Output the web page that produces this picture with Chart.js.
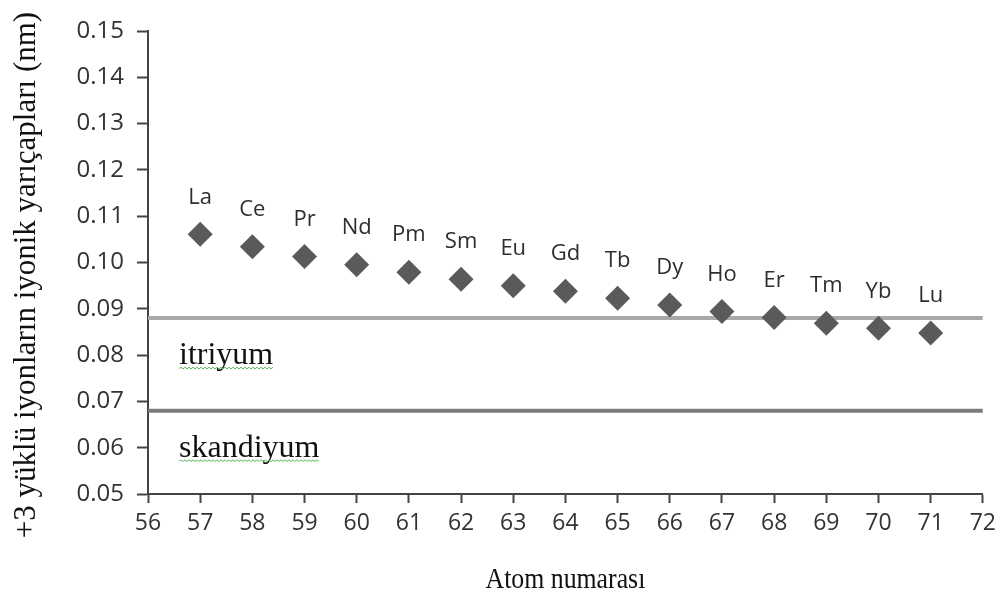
<!DOCTYPE html>
<html>
<head>
<meta charset="utf-8">
<script src="https://cdn.jsdelivr.net/npm/chart.js@4/dist/chart.umd.min.js"></script>
<style>
  html, body { margin: 0; padding: 0; background: #fff; }
  #wrap { width: 1003px; height: 596px; }
</style>
</head>
<body>
<div id="wrap"><canvas id="c" width="1003" height="596"></canvas></div>
<script>
// Lanthanide +3 ionic radii (nm) by atomic number
const atomicNumbers = [57, 58, 59, 60, 61, 62, 63, 64, 65, 66, 67, 68, 69, 70, 71];
const elements = ['La', 'Ce', 'Pr', 'Nd', 'Pm', 'Sm', 'Eu', 'Gd', 'Tb', 'Dy', 'Ho', 'Er', 'Tm', 'Yb', 'Lu'];
const ionicRadii = [0.1061, 0.1034, 0.1013, 0.0995, 0.0979, 0.0964, 0.0950, 0.0938, 0.0923, 0.0908, 0.0894, 0.0881, 0.0869, 0.0858, 0.0848];

// Reference radii for yttrium and scandium
const refNames = ['itriyum', 'skandiyum'];
const refRadii = [0.088, 0.068];

// Axis ranges and titles
const xRange = [56, 72];
const yRange = [0.05, 0.15];
const yTitle = '+3 yüklü iyonların iyonik yarıçapları (nm)';
const xTitle = 'Atom numarası';

const sansFont = '"Open Sans", Lato, sans-serif';
const serifFont = '"Liberation Serif", "DejaVu Serif", serif';

const points = atomicNumbers.map((n, i) => ({ x: n, y: ionicRadii[i] }));
const refColors = ['#a9a9a9', '#7b7b7b'];
const refSets = refRadii.map((r, i) => ({
  label: refNames[i],
  data: [{ x: xRange[0], y: r }, { x: xRange[1], y: r }],
  showLine: true,
  borderColor: refColors[i],
  borderWidth: 4,
  pointRadius: 0,
  order: i + 1
}));

// Element symbol above each marker
const symbolLabels = {
  id: 'symbolLabels',
  afterDatasetsDraw(chart) {
    const ctx = chart.ctx;
    const meta = chart.getDatasetMeta(0);
    ctx.save();
    ctx.font = '22px ' + sansFont;
    ctx.fillStyle = '#2e2e2e';
    ctx.textAlign = 'center';
    ctx.textBaseline = 'middle';
    meta.data.forEach((pt, i) => {
      ctx.fillText(elements[i], pt.x, pt.y - 37);
    });
    ctx.restore();
  }
};

// Names under the reference lines, with a wavy underline
const refLabels = {
  id: 'refLabels',
  afterDatasetsDraw(chart) {
    const ctx = chart.ctx;
    const ys = chart.scales.y;
    const x0 = chart.chartArea.left + 31;
    ctx.save();
    ctx.font = '32px ' + serifFont;
    ctx.textAlign = 'left';
    ctx.textBaseline = 'alphabetic';
    refRadii.forEach((r, i) => {
      const base = ys.getPixelForValue(r) + 46;
      ctx.fillStyle = '#111';
      ctx.fillText(refNames[i], x0, base);
      const w = ctx.measureText(refNames[i]).width;
      const uy = base + 4.5;
      ctx.beginPath();
      ctx.strokeStyle = '#5bb85b';
      ctx.lineWidth = 1;
      let up = true;
      ctx.moveTo(x0, uy);
      for (let x = x0 + 2; x <= x0 + w; x += 2) {
        ctx.lineTo(x, up ? uy - 1.3 : uy + 0.3);
        up = !up;
      }
      ctx.stroke();
    });
    ctx.restore();
  }
};

// Axis titles
const axisTitles = {
  id: 'axisTitles',
  afterDraw(chart) {
    const ctx = chart.ctx;
    const area = chart.chartArea;
    ctx.save();
    ctx.fillStyle = '#111';
    ctx.textAlign = 'center';
    ctx.textBaseline = 'middle';
    ctx.font = '31px ' + serifFont;
    ctx.translate(27, 275);
    ctx.rotate(-Math.PI / 2);
    ctx.fillText(yTitle, 0, 0);
    ctx.restore();

    ctx.save();
    ctx.fillStyle = '#111';
    ctx.textAlign = 'center';
    ctx.textBaseline = 'alphabetic';
    ctx.font = '30px ' + serifFont;
    ctx.translate((area.left + area.right) / 2, 588);
    ctx.scale(0.86, 1);
    ctx.fillText(xTitle, 0, 0);
    ctx.restore();
  }
};

Chart.defaults.font.family = sansFont;

new Chart(document.getElementById('c'), {
  type: 'scatter',
  data: {
    datasets: [
      {
        label: 'Ln3+',
        data: points,
        pointStyle: 'rectRot',
        pointRadius: 12.5,
        pointHoverRadius: 12.5,
        backgroundColor: '#5a5a5a',
        borderWidth: 0,
        order: 0
      },
      ...refSets
    ]
  },
  options: {
    responsive: false,
    animation: false,
    devicePixelRatio: 1,
    layout: { padding: { top: 31, right: 20, left: 0, bottom: 0 } },
    plugins: { legend: { display: false }, tooltip: { enabled: false } },
    scales: {
      x: {
        type: 'linear',
        min: xRange[0],
        max: xRange[1],
        afterFit(s) { s.height = 102; },
        border: { color: '#444', width: 2 },
        grid: { drawOnChartArea: false, tickLength: 9, tickColor: '#444', tickWidth: 2 },
        ticks: {
          stepSize: 1,
          padding: 7,
          color: '#333',
          font: { size: 23, family: sansFont }
        }
      },
      y: {
        min: yRange[0],
        max: yRange[1],
        afterFit(s) { s.width = 148; },
        border: { color: '#444', width: 2 },
        grid: { drawOnChartArea: false, tickLength: 11, tickColor: '#444', tickWidth: 2 },
        ticks: {
          stepSize: 0.01,
          padding: 13,
          color: '#333',
          font: { size: 24, family: sansFont },
          callback: (v) => v.toFixed(2)
        }
      }
    }
  },
  plugins: [symbolLabels, refLabels, axisTitles]
});
</script>
</body>
</html>
